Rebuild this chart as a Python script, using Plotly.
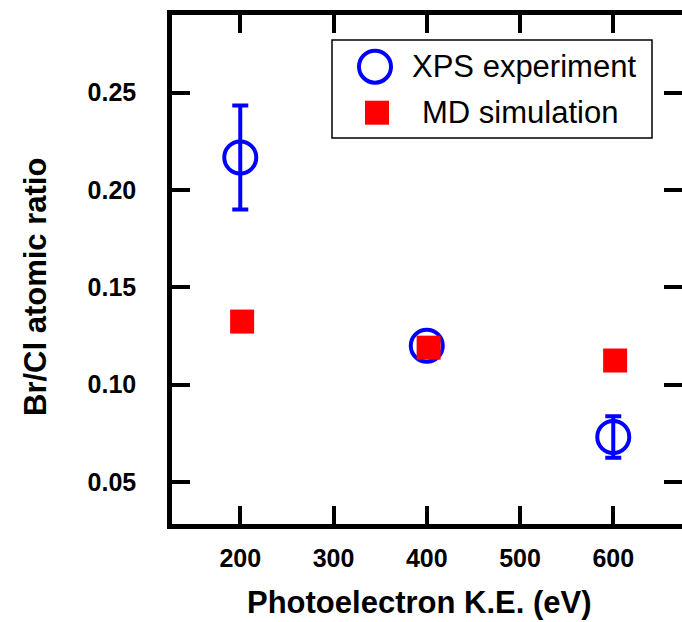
import plotly.graph_objects as go

# Photoelectron kinetic energies (eV)
xps_energy = [200, 400, 600]
md_energy = [202, 402, 602]

# Br/Cl atomic ratios
xps_ratio = [0.2167, 0.1200, 0.0731]
xps_error = [0.0267, 0.004, 0.0106]
md_ratio = [0.1324, 0.1190, 0.1124]

x_ticks = [200, 300, 400, 500, 600]
y_ticks = [0.05, 0.10, 0.15, 0.20, 0.25]

series_names = ["XPS experiment", "MD simulation"]
x_title = "Photoelectron K.E. (eV)"
y_title = "Br/Cl atomic ratio"

BLUE = "#0000FF"
RED = "#FF0000"
FONT = "Liberation Sans, Arial, sans-serif"

W, H = 682, 622
L, R, T, B = 172, 682, 15, 524  # plot area in pixels


def px_x(px):
    return (px - L) / (R - L)


def px_y(py):
    return (B - py) / (B - T)


fig = go.Figure()

fig.add_trace(go.Scatter(
    x=xps_energy, y=xps_ratio, mode="markers", name=series_names[0],
    marker=dict(symbol="circle-open", size=32, color=BLUE, line=dict(width=4, color=BLUE)),
    error_y=dict(type="data", array=xps_error, visible=True, color=BLUE, thickness=4, width=8),
    showlegend=False,
))
fig.add_trace(go.Scatter(
    x=md_energy, y=md_ratio, mode="markers", name=series_names[1],
    marker=dict(symbol="square", size=24, color=RED, line=dict(width=0)),
    showlegend=False,
))

axis_common = dict(
    showline=True, linecolor="black", linewidth=4.5, mirror="ticks",
    ticks="inside", ticklen=18, tickwidth=4, tickcolor="black",
    showgrid=False, zeroline=False,
    tickfont=dict(family=FONT, size=25, color="black", weight="bold"),
)

fig.update_layout(
    width=W, height=H,
    margin=dict(l=L, r=W - R, t=T, b=H - B, pad=0, autoexpand=False),
    paper_bgcolor="white", plot_bgcolor="white",
    xaxis=dict(range=[126.8, 673.7], tickvals=x_ticks, ticklabelstandoff=8, **axis_common),
    yaxis=dict(range=[0.0284, 0.2899], tickvals=y_ticks, tickformat=".2f",
               ticklabelstandoff=26, **axis_common),
    showlegend=False,
)

# Legend box with its symbols and labels
shapes = [
    dict(type="rect", xref="paper", yref="paper",
         x0=px_x(332), x1=px_x(652), y0=px_y(138), y1=px_y(40),
         line=dict(color="black", width=1.5), fillcolor="white", layer="below"),
    dict(type="circle", xref="paper", yref="paper",
         xsizemode="pixel", ysizemode="pixel",
         xanchor=px_x(375), yanchor=px_y(66.7),
         x0=-16, x1=16, y0=-16, y1=16,
         line=dict(color=BLUE, width=4)),
    dict(type="rect", xref="paper", yref="paper",
         xsizemode="pixel", ysizemode="pixel",
         xanchor=px_x(377), yanchor=px_y(112.7),
         x0=-12, x1=12, y0=-12, y1=12,
         line=dict(width=0), fillcolor=RED),
]

annotations = [
    dict(text=series_names[0], xref="paper", yref="paper", x=px_x(524), y=px_y(67),
         xanchor="center", yanchor="middle", showarrow=False,
         font=dict(family=FONT, size=31, color="black")),
    dict(text=series_names[1], xref="paper", yref="paper", x=px_x(520), y=px_y(112),
         xanchor="center", yanchor="middle", showarrow=False,
         font=dict(family=FONT, size=31, color="black")),
    dict(text=x_title, xref="paper", yref="paper", x=px_x(419), y=px_y(602),
         xanchor="center", yanchor="middle", showarrow=False,
         font=dict(family=FONT, size=31, color="black", weight="bold")),
    dict(text=y_title, xref="paper", yref="paper", x=px_x(35), y=px_y(287),
         xanchor="center", yanchor="middle", showarrow=False, textangle=-90,
         font=dict(family=FONT, size=31, color="black", weight="bold")),
]

fig.update_layout(shapes=shapes, annotations=annotations)

fig.write_html("out.html")
